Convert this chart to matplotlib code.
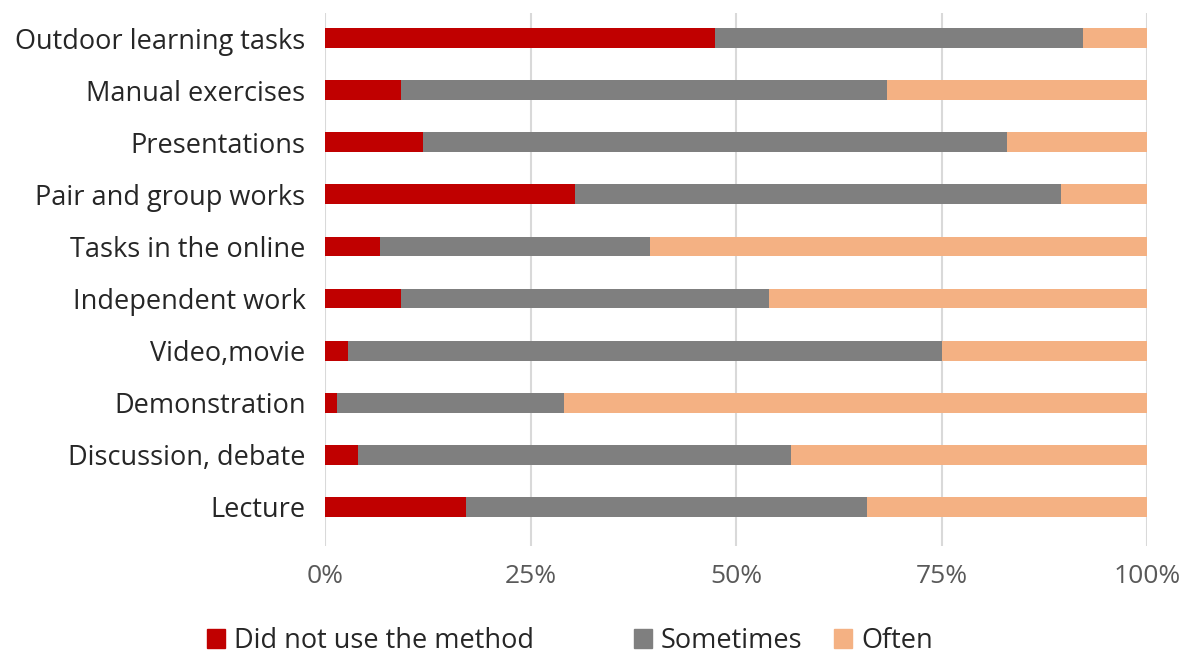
import matplotlib
matplotlib.use("Agg")
import matplotlib.pyplot as plt
from matplotlib.patches import Patch
import numpy as np

categories = ["Outdoor learning tasks", "Manual exercises", "Presentations",
              "Pair and group works", "Tasks in the online", "Independent work",
              "Video,movie", "Demonstration", "Discussion, debate", "Lecture"]
did_not = [47.5, 9.3, 11.9, 30.4, 6.7, 9.3, 2.8, 1.4, 4.0, 17.1]
sometimes = [44.7, 59.1, 71.1, 59.1, 32.8, 44.7, 72.2, 27.7, 52.7, 48.8]
often = [7.8, 31.6, 17.0, 10.5, 60.5, 46.0, 25.0, 70.9, 43.3, 34.1]
series_names = ["Did not use the method", "Sometimes", "Often"]
colors = ["#C00000", "#7F7F7F", "#F4B183"]
xticks = [0, 25, 50, 75, 100]
xticklabels = ["0%", "25%", "50%", "75%", "100%"]

plt.rcParams['font.family'] = ['Open Sans', 'DejaVu Sans']

W, H = 1183, 655
fig = plt.figure(figsize=(W/100, H/100), dpi=100)
ax = fig.add_axes([325/W, 1-546/H, (1147-325)/W, (546-13)/H])

y = np.arange(len(categories))[::-1]
left = np.zeros(len(categories))
for vals, name, c in zip([did_not, sometimes, often], series_names, colors):
    ax.barh(y, vals, left=left, height=0.38, color=c, label=name, zorder=3)
    left = left + np.array(vals)

ax.set_xlim(0, 100)
ax.set_ylim(-0.75, 9.48)
ax.set_yticks(y)
ax.set_yticklabels(categories, fontsize=19.5, color="#262626")
ax.set_xticks(xticks)
ax.set_xticklabels(xticklabels, fontsize=19, color="#595959")
ax.tick_params(axis='both', length=0)
ax.tick_params(axis='x', pad=13)
ax.tick_params(axis='y', pad=14)
for s in ax.spines.values():
    s.set_visible(False)
ax.grid(axis='x', color="#D9D9D9", linewidth=1.5, zorder=0)

legend_x = [207, 634, 834]
for name, c, lx in zip(series_names, colors, legend_x):
    fig.legend(handles=[Patch(color=c, label=name)], loc='center left',
               bbox_to_anchor=(lx/W, 1-641/H), frameon=False, fontsize=19.5,
               handlelength=0.65, handleheight=0.65, handletextpad=0.35,
               borderpad=0, borderaxespad=0, labelcolor="#262626")

fig.savefig("out.png", dpi=100)
